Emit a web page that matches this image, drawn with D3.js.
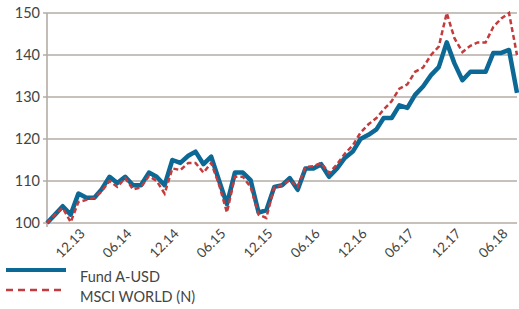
<!DOCTYPE html>
<html lang="en">
<head>
<meta charset="UTF-8">
<title>Fund A-USD vs MSCI World</title>
<script src="https://d3js.org/d3.v7.min.js"></script>
<style>
    body { margin: 0; background: #fff; }
    text { font-family: Lato, 'Open Sans', sans-serif; fill: #444; }
</style>
</head>
<body>
<div id="chart"></div>
<script>
    // monthly observations
    const months = [
        "2013-08","2013-09","2013-10","2013-11","2013-12","2014-01","2014-02","2014-03","2014-04","2014-05",
        "2014-06","2014-07","2014-08","2014-09","2014-10","2014-11","2014-12","2015-01","2015-02","2015-03",
        "2015-04","2015-05","2015-06","2015-07","2015-08","2015-09","2015-10","2015-11","2015-12","2016-01",
        "2016-02","2016-03","2016-04","2016-05","2016-06","2016-07","2016-08","2016-09","2016-10","2016-11",
        "2016-12","2017-01","2017-02","2017-03","2017-04","2017-05","2017-06","2017-07","2017-08","2017-09",
        "2017-10","2017-11","2017-12","2018-01","2018-02","2018-03","2018-04","2018-05","2018-06","2018-07",
        "2018-08"
    ];
    const fund = [
        100, 102, 104, 102, 107, 106, 106, 108, 111, 109.5,
        111, 109, 109, 112, 111, 109, 115, 114.3, 116, 117,
        114, 115.8, 110, 104.5, 112, 112, 110.2, 102.5, 103, 108.6,
        109, 110.7, 107.9, 113, 113, 114, 111, 113, 115.5, 117,
        120, 121, 122.3, 125, 125, 128, 127.4, 130.5, 132.5, 135.2,
        137.1, 143, 138, 134, 136, 136, 136, 140.5, 140.5, 141.2,
        131
    ];
    const msci = [
        100, 102, 103.6, 100.2, 105, 105.5, 106, 107.5, 110, 108.6,
        110.7, 108, 108.5, 111.2, 110, 107, 113, 112.6, 114.3, 114.3,
        112, 114.3, 109, 102.5, 111, 111, 108.6, 102, 101.2, 108.6,
        109, 110.2, 108.6, 113.3, 113.5, 114.3, 111.9, 114, 116.5, 118.5,
        121.5, 123.5, 125, 127, 129, 132, 133, 136, 137, 140,
        142, 150, 144, 140.7, 142.2, 143, 143, 146.7, 148.7, 150,
        140
    ];
    const yTicks = [100, 110, 120, 130, 140, 150];
    const xTickMonths = ["2013-12","2014-06","2014-12","2015-06","2015-12","2016-06","2016-12","2017-06","2017-12","2018-06"];
    const seriesNames = ["Fund A-USD", "MSCI WORLD (N)"];

    const width = 519, height = 309;
    const plotLeft = 47, plotRight = 517, plotTop = 13, plotBottom = 223;

    const parse = d3.timeParse("%Y-%m");
    const dates = months.map(parse);

    const x = d3.scaleTime()
        .domain(d3.extent(dates))
        .range([plotLeft, plotRight]);
    const y = d3.scaleLinear()
        .domain([100, 150])
        .range([plotBottom, plotTop]);

    const svg = d3.select("#chart").append("svg")
        .attr("width", width)
        .attr("height", height);

    // horizontal grid
    svg.append("g").selectAll("line")
        .data(yTicks)
        .join("line")
        .attr("x1", plotLeft - 4)
        .attr("x2", plotRight)
        .attr("y1", d => y(d))
        .attr("y2", d => y(d))
        .attr("stroke", "#b3aca4")
        .attr("stroke-width", 1.6);

    // y axis line
    svg.append("line")
        .attr("x1", plotLeft).attr("x2", plotLeft)
        .attr("y1", plotTop).attr("y2", plotBottom + 4)
        .attr("stroke", "#b3aca4")
        .attr("stroke-width", 1.6);

    svg.append("g").selectAll("text")
        .data(yTicks)
        .join("text")
        .attr("x", plotLeft - 7)
        .attr("y", d => y(d))
        .attr("dy", "0.36em")
        .attr("text-anchor", "end")
        .style("font-size", "14.5px")
        .text(d => d);

    // x tick labels
    const fmt = d3.timeFormat("%m.%y");
    svg.append("g").selectAll("text")
        .data(xTickMonths.map(parse))
        .join("text")
        .attr("transform", d => `translate(${x(d) + 4},${plotBottom + 8}) rotate(-45)`)
        .attr("text-anchor", "end")
        .attr("dy", "0.35em")
        .style("font-size", "13.5px")
        .text(d => fmt(d));

    const line = d3.line()
        .x((d, i) => x(dates[i]))
        .y(d => y(d));

    svg.append("path")
        .datum(fund)
        .attr("d", line)
        .attr("fill", "none")
        .attr("stroke", "#0c6894")
        .attr("stroke-width", 4.5)
        .attr("stroke-linejoin", "round");

    svg.append("path")
        .datum(msci)
        .attr("d", line)
        .attr("fill", "none")
        .attr("stroke", "#c43b3d")
        .attr("stroke-width", 2.5)
        .attr("stroke-dasharray", "5,3");

    // legend
    const legend = svg.append("g");
    legend.append("line")
        .attr("x1", 6).attr("x2", 66).attr("y1", 270).attr("y2", 270)
        .attr("stroke", "#0c6894").attr("stroke-width", 4);
    legend.append("line")
        .attr("x1", 6).attr("x2", 66).attr("y1", 290).attr("y2", 290)
        .attr("stroke", "#c43b3d").attr("stroke-width", 2.5)
        .attr("stroke-dasharray", "7,5");
    legend.selectAll("text")
        .data(seriesNames)
        .join("text")
        .attr("x", 80)
        .attr("y", (d, i) => 282 + i * 20)
        .style("font-size", "14.5px")
        .text(d => d);
</script>
</body>
</html>
